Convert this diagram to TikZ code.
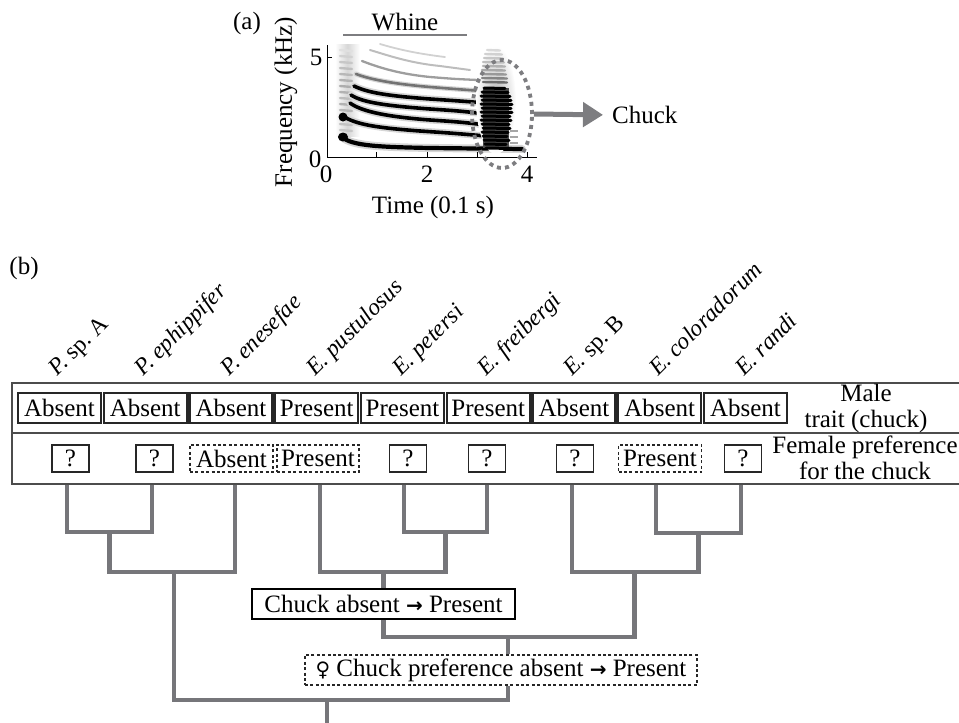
\documentclass[tikz,border=0pt]{standalone}
\usepackage{fontspec}
\setmainfont{Liberation Serif}
\newfontfamily\symfont{DejaVu Sans}
\usetikzlibrary{shapes.geometric,arrows.meta,backgrounds}
\definecolor{treegray}{RGB}{118,118,122}
\definecolor{dgray}{RGB}{125,125,128}
\newcommand{\rarr}{{\symfont\fontsize{20}{20}\selectfont\bfseries →}}
\newcommand{\femsym}{{\symfont\fontsize{20}{20}\selectfont ♀}}
\begin{document}
\begin{tikzpicture}[x=1pt,y=-1pt,
  font=\fontsize{25}{26}\selectfont,
  malebox/.style={draw=black!85, line width=2.2pt, minimum width=83pt, minimum height=30pt, inner sep=0pt},
  qbox/.style={draw=black!85, line width=1.1pt, minimum width=37pt, minimum height=27pt, inner sep=0pt},
  dbox/.style={draw=black!85, dash pattern=on 3pt off 2.4pt, line width=1.5pt, minimum width=83pt, minimum height=27pt, inner sep=0pt},
  species/.style={rotate=45, anchor=base west, inner sep=0pt, font=\fontsize{23.5}{24}\selectfont\itshape},
  tree/.style={draw=treegray, line width=4.2pt, line join=miter},
  tablerule/.style={draw=black!70, line width=1.5pt},
  harm/.style={line cap=round, line join=round},
  tick/.style={draw=black, line width=0.9pt}]
\useasboundingbox (0,0) rectangle (959,723);

% ---------------- (a) spectrogram ----------------
\node (la) at (247,23) {(a)};
\node (whine) at (405,22) {Whine};
\draw[dgray, line width=1.6pt] (343,35) -- (467,35);

% onset noise band
\shade[left color=white, right color=white, middle color=black!16] (335,44) rectangle (360,136);
\foreach \yy/\c in {50/12,56/18,62/22,68/25,74/28,80/30,86/32,92/30,98/26,104/30,110/28,124/24,130/22} \draw[black!\c, line width=2.4pt, line cap=round] (340,\yy) -- (352,\yy+1);

% harmonics (blur + core)
\begin{scope}[harm]
\foreach \w/\c in {8/black!16, 4.2/black} {
  \draw[\c, line width=\w pt] (342,137) .. controls (352,146) and (380,147) .. (430,148) -- (522,149);
}
\foreach \w/\c in {7/black!16, 3.6/black} {
  \draw[\c, line width=\w pt] (343,116) .. controls (356,125) and (380,128) .. (420,131) .. controls (450,133) .. (486,136);
  \draw[\c, line width=\w pt] (350,103) .. controls (362,112) and (390,117) .. (430,120) .. controls (460,122) .. (486,125);
  \draw[\c, line width=\w pt] (351,95) .. controls (363,103) and (390,106) .. (430,109) .. controls (460,111) .. (486,114);
  \draw[\c, line width=\w pt] (354,86) .. controls (368,93) and (390,96) .. (430,99) .. controls (460,101) .. (486,103);
}
\draw[black!16, line width=5pt] (356,74) .. controls (372,80) and (395,84) .. (430,87) .. controls (455,89) .. (482,91);
\draw[black!55, line width=2.6pt] (356,74) .. controls (372,80) and (395,84) .. (430,87) .. controls (455,89) .. (482,91);
\draw[black!38, line width=2.3pt] (362,61) .. controls (380,68) and (400,74) .. (430,77) .. controls (455,79) .. (478,80);
\draw[black!26, line width=2pt] (370,50) .. controls (390,56) and (410,63) .. (440,66) .. controls (455,68) .. (470,70);
\draw[black!18, line width=1.8pt] (380,44) .. controls (400,50) and (420,54) .. (445,57);
\end{scope}
\fill[black] (343,137) ellipse (5 and 4.5);
\fill[black] (343,117) ellipse (4.5 and 4.5);

% chuck block
\shade[inner color=black!30, outer color=white] (496,100) ellipse (20 and 54);
\foreach \yy/\xa/\xb/\c in {50/487/500/15,54/485/502/18,58/484/503/22,62/483/504/25,66/483/505/30,70/482/505/34,74/482/506/40,78/482/507/48,82/483/507/58} \draw[black!\c, line width=2.4pt, line cap=round] (\xa,\yy) -- (\xb,\yy+0.5);
\fill[black!70] (483,88) rectangle (509,148);
\foreach \yy/\xa/\xb in {88/484/505, 92/482/508, 96/481/510, 100/482/511, 104/481/512, 108/482/511, 112/481/512, 116/482/510, 120/481/511, 124/482/509, 128/483/510, 132/482/508, 136/483/507, 140/484/509, 144/485/506, 148/486/512} \draw[black, line width=3pt, line cap=round] (\xa,\yy) -- (\xb,\yy+0.5);
\foreach \yy in {131,137,143} \draw[black!35, line width=1.6pt] (510,\yy) -- (518,\yy);

% axes
\draw[black, line width=0.9pt] (327,45) -- (327,157) -- (537,157);
\draw[tick] (327,57) -- (332,57);
\foreach \xx in {376,427,477,527} \draw[tick] (\xx,157) -- (\xx,152);
\node (y5) at (316,57) {5};
\node (y0) at (315,159) {0};
\node (x0) at (326,174) {0};
\node (x2) at (427,174) {2};
\node (x4) at (527,174) {4};
\node[rotate=90] (ylab) at (286,102) {Frequency (kHz)};
\node (xlab) at (433,207) {Time (0.1 s)};

% chuck ellipse and arrow
\node[ellipse, draw=dgray, line width=3.8pt, dash pattern=on 4pt off 4.2pt, minimum width=60pt, minimum height=108pt, inner sep=0pt] (chkell) at (502,114) {};
\node[anchor=west, inner sep=0pt] (chucklab) at (612,115) {Chuck};
\draw[dgray, line width=5pt, -{Triangle[length=20pt,width=24pt]}, shorten >=9pt] (chkell.east) -- (chucklab.west);

% ---------------- (b) ----------------
\node (lb) at (24,268) {(b)};

% table
\draw[tablerule] (959,383) -- (12,383) -- (12,484) -- (959,484);
\draw[tablerule] (12,433) -- (959,433);

% species labels and male trait row
\foreach \i/\t in {0/Absent,1/Absent,2/Absent,3/Present,4/Present,5/Present,6/Absent,7/Absent,8/Absent} {
  \node[malebox] (m\i) at ({59.5+85.75*\i},408) {\t};
}
\node[species] (s0) at (57.5,377) {P.\ \textup{sp.\ A}};
\node[species] (s1) at (143,377) {P.\ ephippifer};
\node[species] (s2) at (229,377) {P.\ enesefae};
\node[species] (s3) at (315,377) {E.\ pustulosus};
\node[species] (s4) at (401,377) {E.\ petersi};
\node[species] (s5) at (486.5,377) {E.\ freibergi};
\node[species] (s6) at (572.5,377) {E.\ \textup{sp.\ B}};
\node[species] (s7) at (658,377) {E.\ coloradorum};
\node[species] (s8) at (744,377) {E.\ randi};

% female preference row
\node[qbox] (f0) at (70.5,458.5) {?};
\node[qbox] (f1) at (154.5,458.5) {?};
\node[dbox] (f2) at (231.5,458.5) {Absent};
\node[dbox, minimum width=82pt] (f3) at (318,458.5) {Present};
\node[qbox] (f4) at (408,458.5) {?};
\node[qbox] (f5) at (487,458.5) {?};
\node[qbox] (f6) at (575,458.5) {?};
\node[dbox] (f7) at (660,458.5) {Present};
\node[qbox] (f8) at (743,458.5) {?};

\node[align=center, inner sep=0pt] (mt) at (866,408) {Male\\trait (chuck)};
\node[align=center, inner sep=0pt] (fp) at (865,458) {Female preference\\for the chuck};

% transition boxes
\node[draw=black, line width=2.2pt, fill=white, minimum width=263pt, minimum height=30pt, inner sep=0pt] (chk) at (383.5,604) {Chuck absent \rarr\ Present};
\node[draw=black!85, fill=white, dash pattern=on 3pt off 2.4pt, line width=1.5pt, minimum width=392pt, minimum height=30pt, inner sep=0pt] (fem) at (501,670) {\femsym\ Chuck preference absent \rarr\ Present};

% tree
\foreach \i/\xx in {0/67,1/152,2/235,3/320,4/404,5/487,6/572,7/656,8/741} {
  \coordinate (l\i) at (\xx,484);
}
\coordinate (a1) at (109.5,532);
\coordinate (a2) at (174,572);
\coordinate (b1) at (445.5,532);
\coordinate (b2) at (383.5,572);
\coordinate (r1) at (698.5,533);
\coordinate (r2) at (634.5,572);
\coordinate (c) at (508,637);
\coordinate (d) at (327,700);
\coordinate (rt) at (327,723);
\begin{scope}[on background layer]
\draw[tree] (l0) |- (a1) -| (l1);
\draw[tree] (a1) |- (a2) -| (l2);
\draw[tree] (l4) |- (b1) -| (l5);
\draw[tree] (l3) |- (b2) -| (b1);
\draw[tree] (l7) |- (r1) -| (l8);
\draw[tree] (l6) |- (r2) -| (r1);
\draw[tree] (b2) -- (chk.north);
\draw[tree] (chk.south) |- (c) -| (r2);
\draw[tree] (c) -- (c |- fem.north);
\draw[tree] (a2) |- (d) -| (c |- fem.south);
\draw[tree] (d) -- (rt);
\end{scope}
\end{tikzpicture}
\end{document}
